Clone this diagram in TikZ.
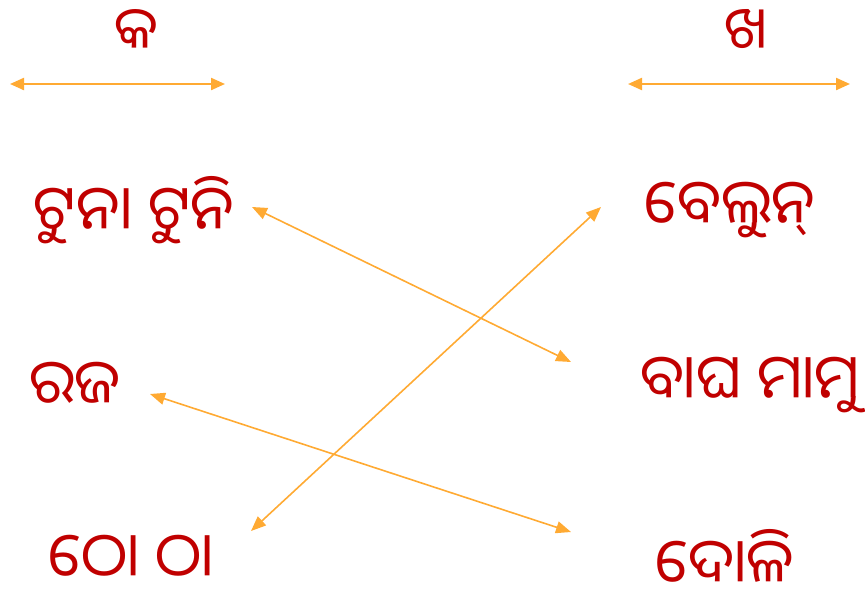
\documentclass[tikz,border=0pt]{standalone}
\usepackage{fontspec}
\newfontfamily\oriya[Script=Oriya]{Noto Sans Oriya UI}
\usetikzlibrary{arrows.meta}
\definecolor{wordred}{RGB}{192,0,0}
\definecolor{linkorange}{RGB}{255,170,51}
\tikzset{
  word/.style={text=wordred, font=\oriya\fontsize{61}{70}\selectfont, inner sep=0pt},
  head/.style={text=wordred, font=\oriya\fontsize{58}{66}\selectfont, inner sep=0pt},
  link/.style={draw=linkorange, line width=1.6pt, {Triangle[length=15pt,width=12pt]}-{Triangle[length=15pt,width=12pt]}},
  bar/.style={draw=linkorange, line width=2.2pt, {Triangle[length=14pt,width=12pt]}-{Triangle[length=14pt,width=12pt]}}
}
\begin{document}
\begin{tikzpicture}[x=1pt,y=-1pt]
\useasboundingbox (0,0) rectangle (865,590);
\node[head] (ka) at (136,31) {କ};
\node[head] (kha) at (746,31) {ଖ};
\coordinate (l1) at (10,84); \coordinate (l2) at (225,84);
\coordinate (r1) at (628,84); \coordinate (r2) at (850,84);
\draw[bar] (l1) -- (l2);
\draw[bar] (r1) -- (r2);
\node[word] (tuna) at (134,210) {ଟୁନା ଟୁନି};
\node[word] (raja) at (75,385) {ରଜ};
\node[word] (tho) at (131,558) {ଠୋ ଠା};
\node[word] (belun) at (730,210) {ବେଲୁନ୍};
\node[word] (bagha) at (750,385) {ବାଘ ମାମୁ};
\node[word] (doli) at (725,558) {ଦୋଳି};
\coordinate (a1) at (252,207); \coordinate (b1) at (571,362);
\coordinate (a2) at (150,394); \coordinate (b2) at (571,532);
\coordinate (a3) at (251,531); \coordinate (b3) at (601,207);
\draw[link] (a1) -- (b1);
\draw[link] (a2) -- (b2);
\draw[link] (a3) -- (b3);
\end{tikzpicture}
\end{document}
